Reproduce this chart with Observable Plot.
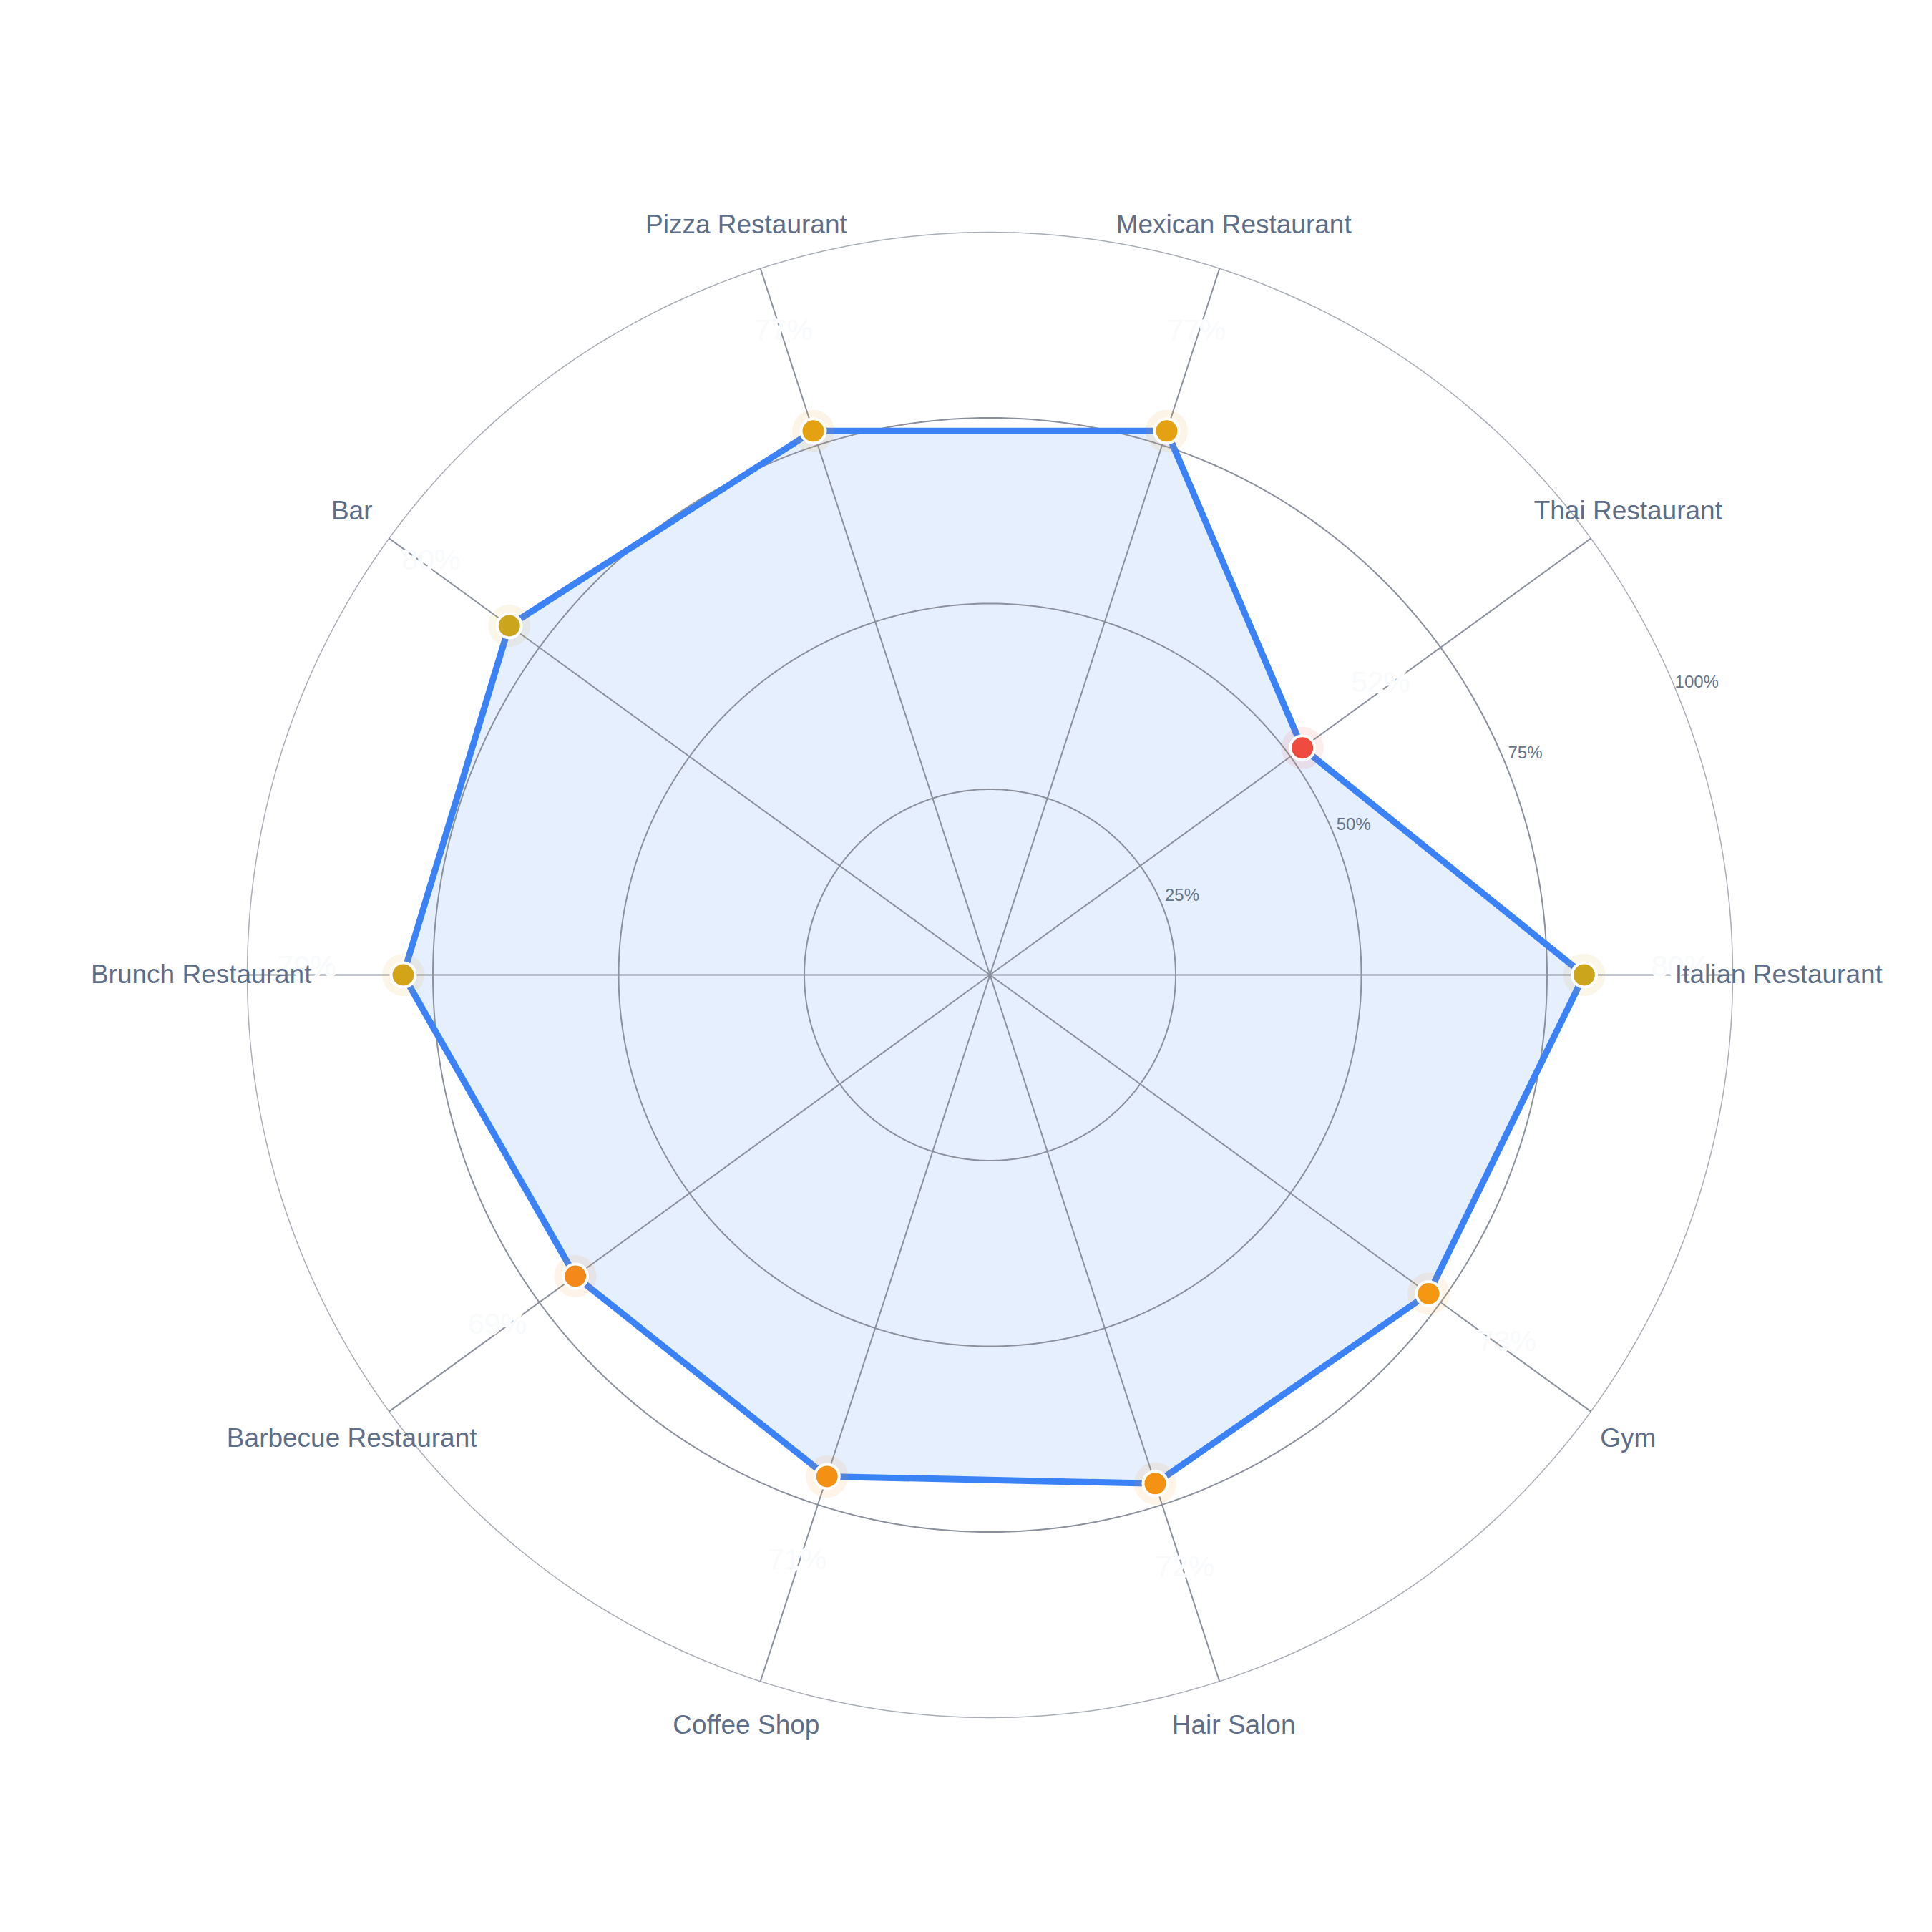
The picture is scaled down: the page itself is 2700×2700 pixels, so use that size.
<!DOCTYPE html>
<html>
<head>
<meta charset="utf-8">
<script src="https://cdn.jsdelivr.net/npm/d3@7"></script>
<script src="https://cdn.jsdelivr.net/npm/@observablehq/plot@0.6"></script>
<style>
  html, body { margin: 0; padding: 0; background: #ffffff; }
</style>
</head>
<body>
<div id="chart"></div>
<script>
const categories = ["Italian Restaurant", "Thai Restaurant", "Mexican Restaurant", "Pizza Restaurant", "Bar", "Brunch Restaurant", "Barbecue Restaurant", "Coffee Shop", "Hair Salon", "Gym"];
const values = [80, 52, 77, 77, 80, 79, 69, 71, 72, 73];
const ringTicks = [25, 50, 75, 100];
const tickLabels = ["25%", "50%", "75%", "100%"];

const n = categories.length;
const rows = categories.map((c, i) => ({category: c, value: values[i], angle: i * 2 * Math.PI / n}));
const px = (r, a) => r * Math.cos(a);
const py = (r, a) => r * Math.sin(a);

const ringPts = [];
for (const t of ringTicks) {
  for (let k = 0; k < 360; k++) {
    const a = k * Math.PI / 180;
    ringPts.push({ring: t, x: px(t / 100, a), y: py(t / 100, a)});
  }
}
const innerRings = ringPts.filter(d => d.ring < 100);
const outerRing = ringPts.filter(d => d.ring === 100);

const tickAngle = 22.5 * Math.PI / 180;
const tickRows = ringTicks.map((t, i) => ({t, label: tickLabels[i]}));

const X = d => px(d.value / 100, d.angle);
const Y = d => py(d.value / 100, d.angle);

const chart = Plot.plot({
  width: 2700,
  height: 2700,
  margin: 0,
  style: {fontFamily: "'Liberation Sans', Arial, Helvetica, sans-serif", background: "#ffffff"},
  x: {domain: [-1.3324, 1.2688], axis: null},
  y: {domain: [-1.289, 1.3121], axis: null},
  color: {type: "linear", domain: [50, 75, 100], range: ["#ef4444", "#f59e0b", "#22c55e"], interpolate: "rgb"},
  marks: [
    Plot.line(rows, {x: X, y: Y, curve: "linear-closed", fill: "#3b82f6", fillOpacity: 0.13, stroke: "none"}),
    Plot.line(innerRings, {x: "x", y: "y", z: "ring", curve: "linear-closed", stroke: "#8b919c", strokeWidth: 2}),
    Plot.line(outerRing, {x: "x", y: "y", curve: "linear-closed", stroke: "#a9aeb6", strokeWidth: 1.5}),
    Plot.link(rows, {x1: () => 0, y1: () => 0, x2: d => px(1, d.angle), y2: d => py(1, d.angle), stroke: "#8b919c", strokeWidth: 2}),
    Plot.line(rows, {x: X, y: Y, curve: "linear-closed", stroke: "#3b82f6", strokeWidth: 9, strokeLinejoin: "round"}),
    Plot.dot(rows, {x: X, y: Y, r: 29.5, fill: "value", fillOpacity: 0.1}),
    Plot.dot(rows, {x: X, y: Y, r: 17, fill: "value", stroke: "white", strokeWidth: 4}),
    Plot.text(rows, {
      x: d => px(d.value / 100 + 0.13, d.angle), y: d => py(d.value / 100 + 0.13, d.angle),
      dy: -12,
      text: d => d.value + "%", fontSize: 41, fill: "#f8fafc", stroke: "white", strokeWidth: 3
    }),
    Plot.text(rows, {
      x: d => px(1.062, d.angle), y: d => py(1.062, d.angle),
      text: "category", fontSize: 37, fill: "#5e6e88"
    }),
    Plot.text(tickRows, {
      x: d => px(d.t / 100 + 0.03, tickAngle), y: d => py(d.t / 100 + 0.03, tickAngle),
      text: "label", fontSize: 24, fill: "#64748b"
    })
  ]
});
document.getElementById("chart").appendChild(chart);
</script>
</body>
</html>
